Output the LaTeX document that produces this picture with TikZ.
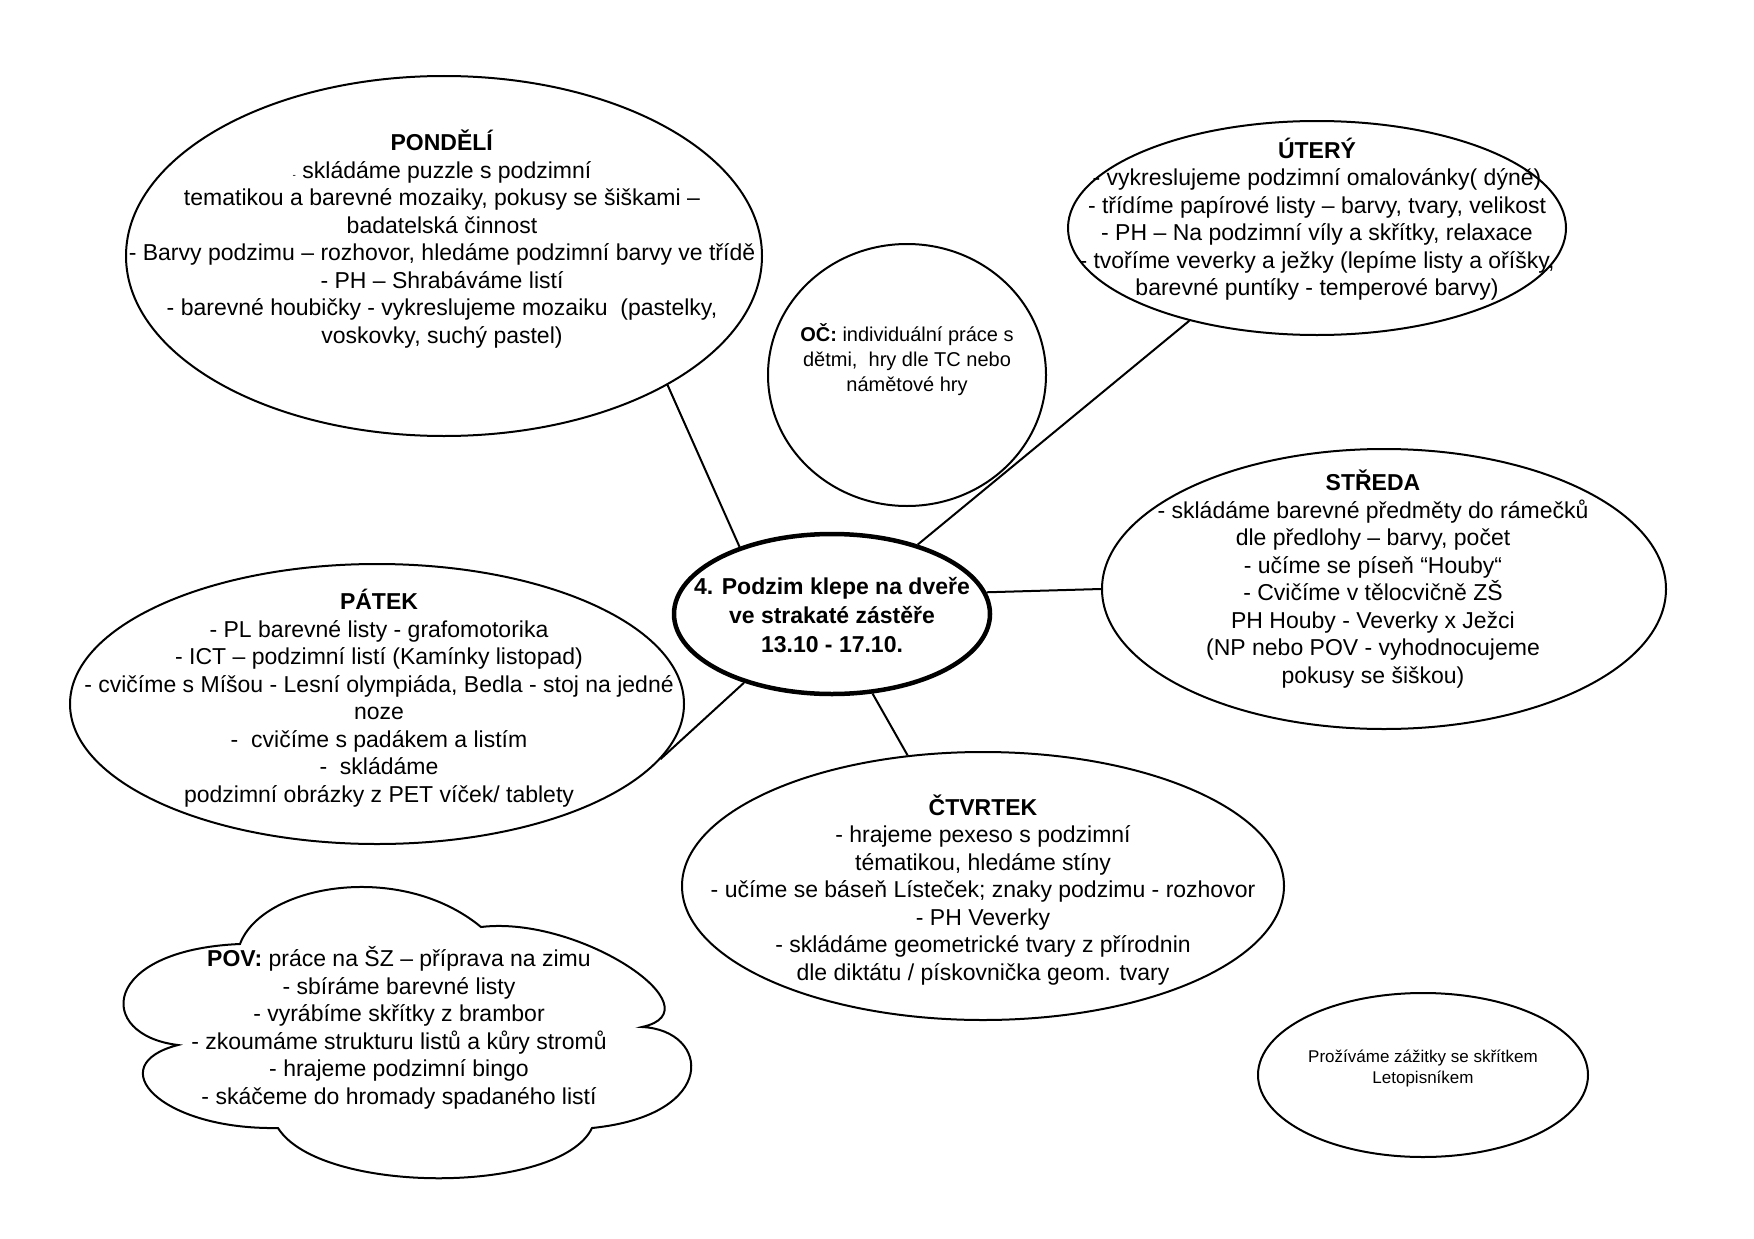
\documentclass[tikz,border=0pt]{standalone}
\usepackage{fontspec}
\setmainfont{Liberation Sans}
\usetikzlibrary{shapes.geometric}
\tikzset{
  bubble/.style={draw, ellipse, line width=2pt, inner sep=0pt},
  hub/.style={draw, ellipse, line width=4.5pt, inner sep=0pt},
  body/.style={align=center, inner sep=0pt, font=\fontsize{23}{27.5}\selectfont},
  small/.style={align=center, inner sep=0pt, font=\fontsize{20}{25}\selectfont},
  tiny/.style={align=center, inner sep=0pt, font=\fontsize{17}{21}\selectfont},
  conn/.style={line width=2pt},
}
\begin{document}
\begin{tikzpicture}[x=1pt,y=-1pt]
\useasboundingbox (0,0) rectangle (1754,1239);
\fill[white] (0,0) rectangle (1754,1239);

% ellipses
\node[bubble, minimum width=636pt, minimum height=360pt] (pon) at (444,256) {};
\node[bubble, minimum width=498pt, minimum height=214pt] (ute) at (1317,228) {};
\node[bubble, minimum width=278pt, minimum height=262pt] (oc) at (907,375) {};
\node[hub, minimum width=316pt, minimum height=160pt] (cen) at (832,614) {};
\node[bubble, minimum width=564pt, minimum height=280pt] (str) at (1384,589) {};
\node[bubble, minimum width=614pt, minimum height=280pt] (pat) at (377,704) {};
\node[bubble, minimum width=602pt, minimum height=268pt] (ctv) at (983,886) {};
\node[bubble, minimum width=330pt, minimum height=164pt] (let) at (1423,1075) {};

% cloud
\draw[line width=2pt, line join=miter]
  (178,1045) .. controls (95,1035) and (100,950) .. (240,944)
  .. controls (262,885) and (400,860) .. (481,927)
  .. controls (580,915) and (720,1010) .. (642,1027)
  .. controls (710,1030) and (720,1115) .. (592,1128)
  .. controls (560,1195) and (320,1195) .. (278,1128)
  .. controls (160,1130) and (100,1065) .. cycle;

% connectors
\draw[conn] (pon.-30) -- (cen.144.2);
\draw[conn] (ute.216.9) -- (cen.39);
\draw[conn] (str.180) -- (cen.8.2);
\draw[conn] (pat.-11.1) -- (cen.218.8);
\draw[conn] (ctv.120.9) -- (cen.-63.7);

% texts
\node[body] (pont) at (442,239) {\textbf{PONDĚLÍ}\\
{\fontsize{10}{10}\selectfont -} skládáme puzzle s podzimní\\
tematikou a barevné mozaiky, pokusy se šiškami –\\
badatelská činnost\\
- Barvy podzimu – rozhovor, hledáme podzimní barvy ve třídě\\
- PH – Shrabáváme listí\\
- barevné houbičky - vykreslujeme mozaiku \ (pastelky,\\
voskovky, suchý pastel)};

\node[body] (utet) at (1317,219) {\textbf{ÚTERÝ}\\
- vykreslujeme podzimní omalovánky( dýně)\\
- třídíme papírové listy – barvy, tvary, velikost\\
- PH – Na podzimní víly a skřítky, relaxace\\
- tvoříme veverky a ježky (lepíme listy a oříšky,\\
barevné puntíky - temperové barvy)};

\node[small] (oct) at (907,360) {\textbf{OČ:} individuální práce s\\
dětmi, \ hry dle TC nebo\\
námětové hry};

\node[body, font=\bfseries\fontsize{23}{29}\selectfont] (cent) at (832,615) {4. Podzim klepe na dveře\\
ve strakaté zástěře\\
13.10 - 17.10.};

\node[body] (strt) at (1373,579) {\textbf{STŘEDA}\\
- skládáme barevné předměty do rámečků\\
dle předlohy – barvy, počet\\
- učíme se píseň “Houby“\\
- Cvičíme v tělocvičně ZŠ\\
PH Houby - Veverky x Ježci\\
(NP nebo POV - vyhodnocujeme\\
pokusy se šiškou)};

\node[body] (patt) at (379,698) {\textbf{PÁTEK}\\
- PL barevné listy - grafomotorika\\
- ICT – podzimní listí (Kamínky listopad)\\
- cvičíme s Míšou - Lesní olympiáda, Bedla - stoj na jedné\\
noze\\
- \ cvičíme s padákem a listím\\
- \ skládáme\\
podzimní obrázky z PET víček/ tablety};

\node[body] (ctvt) at (983,890) {\textbf{ČTVRTEK}\\
- hrajeme pexeso s podzimní\\
tématikou, hledáme stíny\\
- učíme se báseň Lísteček; znaky podzimu - rozhovor\\
- PH Veverky\\
- skládáme geometrické tvary z přírodnin\\
dle diktátu / pískovnička geom. tvary};

\node[body] (povt) at (399,1028) {\textbf{POV:} práce na ŠZ – příprava na zimu\\
- sbíráme barevné listy\\
- vyrábíme skřítky z brambor\\
- zkoumáme strukturu listů a kůry stromů\\
- hrajeme podzimní bingo\\
- skáčeme do hromady spadaného listí};

\node[tiny] (lett) at (1423,1068) {Prožíváme zážitky se skřítkem\\
Letopisníkem};
\end{tikzpicture}
\end{document}
